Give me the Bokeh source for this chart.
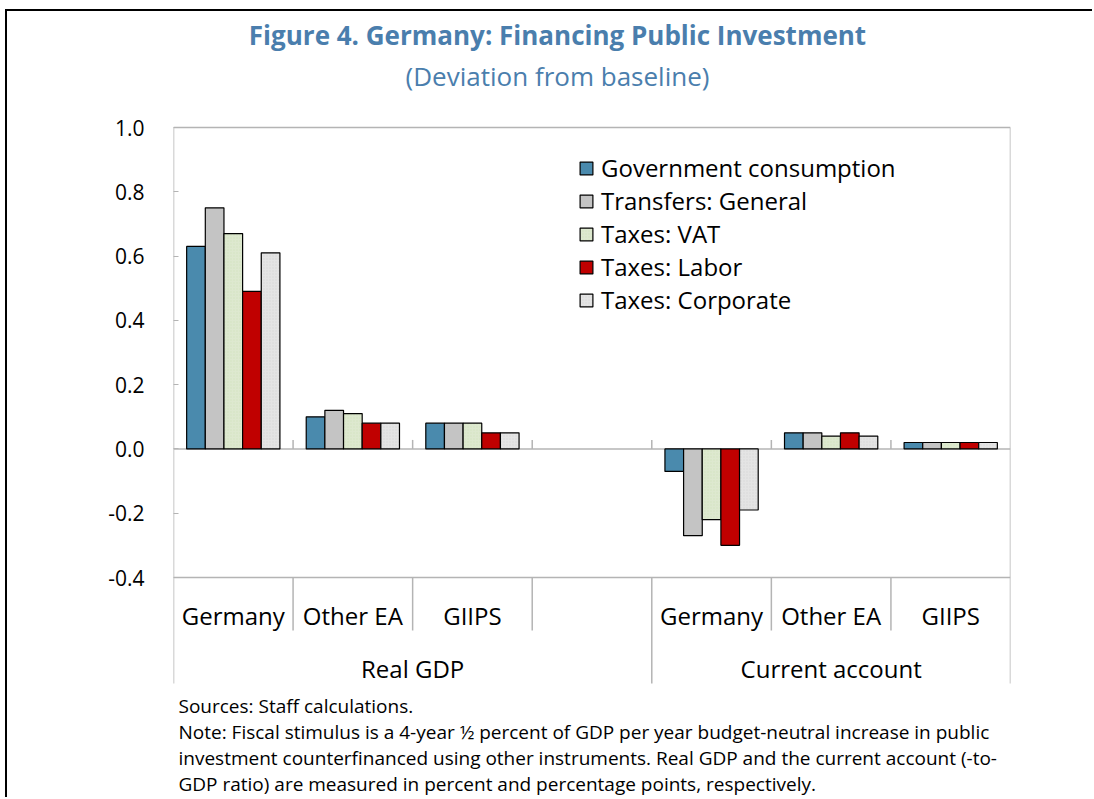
from bokeh.plotting import figure
from bokeh.models import (Range1d, FixedTicker, NumeralTickFormatter,
                          ColumnDataSource, Legend, LegendItem)
from bokeh.core.properties import value
from bokeh.embed import file_html
from bokeh.resources import INLINE

# ---------------- data ----------------
categories = ["Germany", "Other EA", "GIIPS", "", "Germany", "Other EA", "GIIPS"]
groups = ["Real GDP", "Current account"]
group_spans = [(0, 4), (4, 7)]
series = ["Government consumption", "Transfers: General", "Taxes: VAT",
          "Taxes: Labor", "Taxes: Corporate"]
gov_consumption = [0.63, 0.10, 0.08, None, -0.07, 0.05, 0.02]
transfers_general = [0.75, 0.12, 0.08, None, -0.27, 0.05, 0.02]
taxes_vat = [0.67, 0.11, 0.08, None, -0.22, 0.04, 0.02]
taxes_labor = [0.49, 0.08, 0.05, None, -0.30, 0.05, 0.02]
taxes_corporate = [0.61, 0.08, 0.05, None, -0.19, 0.04, 0.02]
values = [gov_consumption, transfers_general, taxes_vat, taxes_labor, taxes_corporate]
colors = ["#4a8aad", "#c4c4c4", "#dde8cf", "#c00000", "#e4e4e4"]
hatches = [None, None, "#c9dab8", None, "#d0d0d0"]
y_ticks = [-0.4, -0.2, 0.0, 0.2, 0.4, 0.6, 0.8, 1.0]

title = "Figure 4. Germany: Financing Public Investment"
subtitle = "(Deviation from baseline)"
notes = [
    "Sources: Staff calculations.",
    "Note: Fiscal stimulus is a 4-year \u00bd percent of GDP per year budget-neutral increase in public",
    "investment counterfinanced using other instruments. Real GDP and the current account (-to-",
    "GDP ratio) are measured in percent and percentage points, respectively.",
]

FONT = "Open Sans"
GRAY = "#b4b4b4"
BLUE = "#4a7ead"

# ---------------- layout ----------------
OX, OY = 7, 11            # page position of the figure's canvas (after css border)
W, H = 1094 - OX, 799 - OY
LEFT = 173 - OX
RIGHT = W - (1010 - OX)
px_per_unit = 450 / 1.4   # 1.0 -> page y 127, -0.4 -> page y 577
y_top = 1.0 + (127 - OY) / px_per_unit
y_bot = 1.0 - (OY + H - 127) / px_per_unit
ymin_data, ymax_data = -0.4, 1.0
nslots = len(categories)
frame_w = W - LEFT - RIGHT


def fx(page_x):
    return (page_x - OX - LEFT) / frame_w * nslots


def fy(page_y):
    return 1.0 - (page_y - 127) / px_per_unit


p = figure(width=W, height=H, output_backend="svg", toolbar_location=None,
           x_range=Range1d(0, nslots), y_range=Range1d(y_bot, y_top),
           min_border=0, min_border_left=LEFT, min_border_right=RIGHT,
           min_border_top=0, min_border_bottom=0,
           styles={"margin-left": "5px", "margin-top": "9px",
                   "border-left": "2px solid black",
                   "border-top": "2px solid black"})
p.outline_line_color = None
p.xgrid.visible = False
p.ygrid.visible = False
p.xaxis.visible = False
p.background_fill_color = "white"
p.border_fill_color = "white"

ya = p.yaxis[0]
ya.ticker = FixedTicker(ticks=y_ticks)
ya.formatter = NumeralTickFormatter(format="0.0")
ya.axis_line_color = None
ya.major_tick_in = 5
ya.major_tick_out = 0
ya.major_tick_line_color = GRAY
ya.minor_tick_line_color = None
ya.major_label_text_font = FONT
ya.major_label_text_font_size = "21px"
ya.major_label_text_color = "black"
ya.major_label_standoff = 29

# frame lines
sep_x0, sep_y0, sep_x1, sep_y1 = [], [], [], []
for yy in (ymax_data, ymin_data, 0.0):
    sep_x0.append(0); sep_x1.append(nslots); sep_y0.append(yy); sep_y1.append(yy)
for xx in (0, nslots):
    sep_x0.append(xx); sep_x1.append(xx); sep_y0.append(ymax_data); sep_y1.append(ymin_data)
inner_bottom = fy(630)
outer_bottom = fy(683)
group_edges = sorted({e for span in group_spans for e in span})
for i in range(nslots + 1):
    bottom = outer_bottom if i in group_edges else inner_bottom
    sep_x0.append(i); sep_x1.append(i); sep_y0.append(ymin_data); sep_y1.append(bottom)
for i in range(1, nslots):
    sep_x0.append(i); sep_x1.append(i); sep_y0.append(0.0); sep_y1.append(9 / px_per_unit)
p.segment(sep_x0, sep_y0, sep_x1, sep_y1, line_color=GRAY, line_width=1.5)

# bars
nser = len(series)
bar_w = 0.78 / nser
items = []
for k, (name, vals, col, hcol) in enumerate(zip(series, values, colors, hatches)):
    xs, tops = [], []
    for i, v in enumerate(vals):
        if v is None:
            continue
        xs.append(i + 0.5 + (k - (nser - 1) / 2) * bar_w)
        tops.append(v)
    src = ColumnDataSource(dict(x=xs, top=tops))
    extra = {}
    if hcol:
        extra = dict(hatch_pattern="dot", hatch_color=hcol, hatch_scale=3,
                     hatch_weight=1, hatch_alpha=0.6)
    r = p.vbar(x="x", top="top", bottom=0, width=bar_w, source=src,
               fill_color=col, line_color="black", line_width=1.2, **extra)
    items.append(LegendItem(label=name, renderers=[r]))

legend_top = 172 - 16 - OY
legend = Legend(items=items, location=(578 - OX - LEFT, H - (legend_top + 160)),
                orientation="vertical",
                label_text_font=FONT, label_text_font_size="24px",
                label_text_color="black", glyph_width=16, glyph_height=16,
                label_height=32, label_standoff=7, spacing=0, padding=0,
                margin=0, border_line_color=None, background_fill_alpha=0)
p.add_layout(legend)

# category labels
cat_src = ColumnDataSource(dict(x=[i + 0.5 for i in range(nslots)],
                                y=[fy(615)] * nslots, t=categories))
p.text(x="x", y="y", text="t", source=cat_src, text_font=value(FONT),
       text_font_size="24px", text_align="center", text_baseline="middle",
       text_color="black")
grp_src = ColumnDataSource(dict(x=[(a + b) / 2 for a, b in group_spans],
                                y=[fy(668)] * len(groups), t=groups))
p.text(x="x", y="y", text="t", source=grp_src, text_font=value(FONT),
       text_font_size="24px", text_align="center", text_baseline="middle",
       text_color="black")

# titles
p.text(x=[fx(557)], y=[fy(34)], text=[title], text_font=value(FONT),
       text_font_size="26px", text_font_style="bold", text_color=BLUE,
       text_align="center", text_baseline="middle")
p.text(x=[fx(557)], y=[fy(75)], text=[subtitle], text_font=value(FONT),
       text_font_size="26px", text_color=BLUE,
       text_align="center", text_baseline="middle")

# notes
p.text(x=[fx(178)] * len(notes), y=[fy(705 + 26 * j) for j in range(len(notes))],
       text=notes, text_font=value(FONT), text_font_size="19px",
       text_color="black", text_align="left", text_baseline="middle")

open("out.html", "w").write(file_html(p, INLINE))
